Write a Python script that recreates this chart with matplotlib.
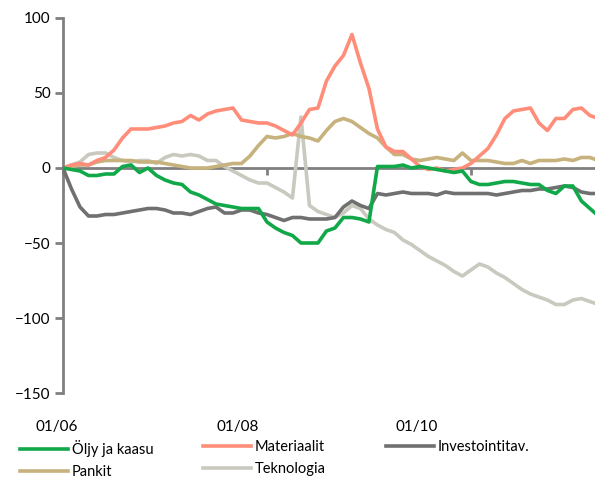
import numpy as np
import matplotlib.pyplot as plt
from matplotlib.transforms import blended_transform_factory

plt.rcParams['font.family'] = ['Lato', 'DejaVu Sans']

# monthly index, 0 = 01/2006
months = np.arange(64)

oljy = [0, -1, -2, -5, -5, -4, -4, 1, 2, -3, 0, -5, -8, -10, -11, -16,
        -18, -21, -24, -25, -26, -27, -27, -27, -36, -40, -43, -45, -50, -50, -50, -42,
        -40, -33, -33, -34, -36, 1, 1, 1, 2, 0, 1, 0, -1, -2, -3, -2,
        -9, -11, -11, -10, -9, -9, -10, -11, -11, -15, -17, -12, -12, -22, -27, -32]
materiaalit = [0, 2, 3, 2, 5, 7, 12, 20, 26, 26, 26, 27, 28, 30, 31, 35,
               32, 36, 38, 39, 40, 32, 31, 30, 30, 28, 25, 22, 30, 39, 40, 58,
               68, 75, 89, 70, 53, 26, 14, 11, 11, 6, 1, -1, 0, -2, -1, 0,
               3, 8, 13, 22, 33, 38, 39, 40, 30, 25, 33, 33, 39, 40, 35, 33]
investointi = [0, -14, -26, -32, -32, -31, -31, -30, -29, -28, -27, -27, -28, -30, -30, -31,
               -29, -27, -26, -30, -30, -28, -28, -30, -31, -33, -35, -33, -33, -34, -34, -34,
               -33, -26, -22, -25, -27, -17, -18, -17, -16, -17, -17, -17, -18, -16, -17, -17,
               -17, -17, -17, -18, -17, -16, -15, -15, -14, -14, -13, -12, -13, -16, -17, -17]
pankit = [0, 1, 2, 2, 4, 5, 5, 5, 5, 4, 4, 4, 3, 2, 1, 0,
          0, 0, 1, 2, 3, 3, 8, 15, 21, 20, 21, 23, 21, 20, 18, 25,
          31, 33, 31, 27, 23, 20, 14, 9, 9, 6, 5, 6, 7, 6, 5, 10,
          5, 5, 5, 4, 3, 3, 5, 3, 5, 5, 5, 6, 5, 7, 7, 5]
teknologia = [0, 2, 4, 9, 10, 10, 7, 5, 4, 5, 5, 3, 7, 9, 8, 9,
              8, 5, 5, 1, -2, -5, -8, -10, -10, -13, -16, -20, 34, -25, -29, -31,
              -33, -30, -25, -27, -34, -38, -41, -43, -48, -51, -55, -59, -62, -65, -69, -72,
              -68, -64, -66, -70, -73, -77, -81, -84, -86, -88, -91, -91, -88, -87, -89, -91]

tick_months = [0, 24, 48]
tick_labels = ['01/06', '01/08', '01/10']
label_months = [-0.7, 20.5, 41.6]

fig = plt.figure(figsize=(5.95, 4.82), dpi=100)
ax = fig.add_axes([0.1059, 0.1846, 0.8941, 0.7781])

lw = 2.6
l1, = ax.plot(months, oljy, color='#11a84a', lw=lw, label='Öljy ja kaasu', zorder=5)
l2, = ax.plot(months, materiaalit, color='#ff8d7a', lw=lw, label='Materiaalit', zorder=3)
l3, = ax.plot(months, investointi, color='#707070', lw=lw, label='Investointitav.', zorder=4)
l4, = ax.plot(months, pankit, color='#c7b27d', lw=lw, label='Pankit', zorder=2)
l5, = ax.plot(months, teknologia, color='#c9c9bf', lw=lw, label='Teknologia', zorder=1)

ax.set_xlim(0, 62.6)
ax.set_ylim(-150, 100)
ax.set_yticks([-150, -100, -50, 0, 50, 100])
ax.tick_params(axis='y', direction='out', length=6, width=2, color='#808080',
               labelsize=11, pad=3)

for s in ['top', 'right']:
    ax.spines[s].set_visible(False)
ax.spines['left'].set_color('#808080')
ax.spines['left'].set_linewidth(2)
ax.spines['bottom'].set_position(('data', 0))
ax.spines['bottom'].set_color('#808080')
ax.spines['bottom'].set_linewidth(2)
ax.spines['bottom'].set_zorder(0)

ax.set_xticks(tick_months)
ax.set_xticklabels([])
ax.tick_params(axis='x', direction='out', length=5, width=2, color='#808080')

trans = blended_transform_factory(ax.transData, fig.transFigure)
for m, lab in zip(label_months, tick_labels):
    ax.text(m, 1 - 427 / 482, lab, transform=trans, ha='center', va='center',
            fontsize=11, clip_on=False)

# legend: three columns placed like the original
legend_cols = [([l1, l4], ['Öljy ja kaasu', 'Pankit'], 20),
               ([l2, l5], ['Materiaalit', 'Teknologia'], 203),
               ([l3], ['Investointitav.'], 386)]
for handles, labels, xpix in legend_cols:
    fig.legend(handles, labels, loc='upper left',
               bbox_to_anchor=(xpix / 595, 1 - 440 / 482), frameon=False,
               fontsize=10.5, handlelength=3.3, handletextpad=0.25,
               labelspacing=0.55, borderaxespad=0, borderpad=0)

fig.savefig('out.png', dpi=100)
